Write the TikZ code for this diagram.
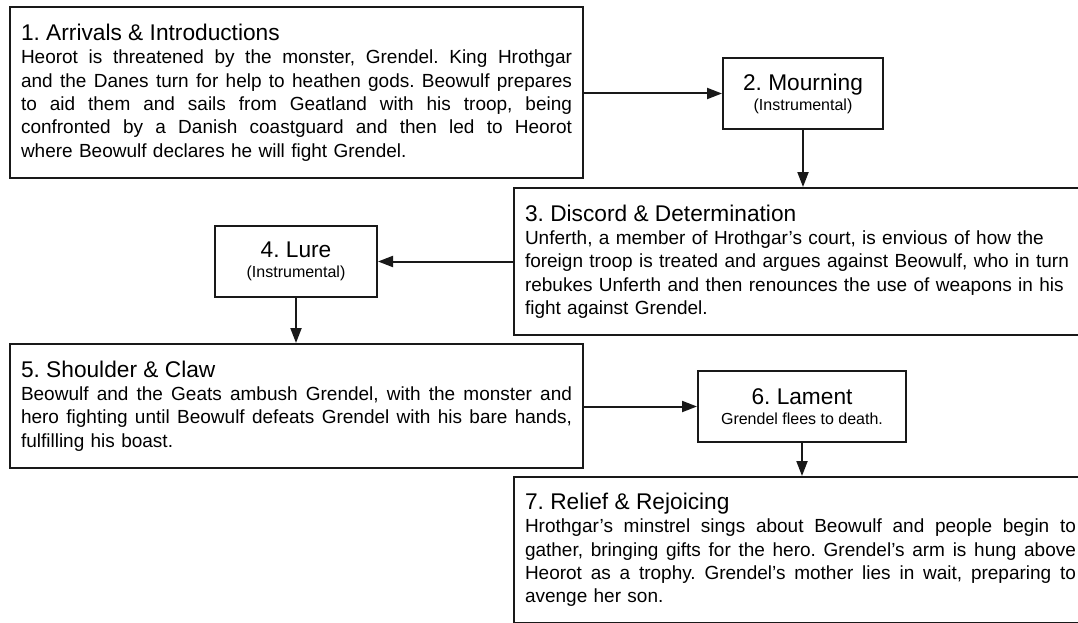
\documentclass[tikz,border=0pt]{standalone}
\usepackage{fontspec}
\setmainfont{Liberation Sans}
\usepackage{tikz}
\usetikzlibrary{arrows.meta,positioning,calc}
\newcommand{\bodysize}{\fontsize{19}{23.3}\selectfont}
\newcommand{\headsize}{\fontsize{22.7}{23.3}\selectfont}
\newcommand{\subsize}{\fontsize{16}{20}\selectfont}
\newlength{\boxtextwd}
\setlength{\boxtextwd}{551pt}
\newcommand{\fullline}[1]{\leavevmode\hbox to \boxtextwd{\spaceskip=0.278em plus 1fil\relax #1}}
\begin{document}
\frenchspacing
\begin{tikzpicture}[
    x=1pt, y=-1pt,
    bigbox/.style={rectangle, draw=black!90, line width=2pt, anchor=north west,
                   text width=\boxtextwd, inner xsep=11pt, inner ysep=0pt,
                   align=left, font=\bodysize},
    smallbox/.style={rectangle, draw=black!90, line width=2pt, anchor=north west,
                     minimum height=71pt, inner sep=0pt, align=center, font=\subsize},
    arr/.style={-{Triangle[length=15pt,width=11pt]}, line width=2pt, draw=black!90},
  ]
    \path[use as bounding box, fill=white] (0,0) rectangle (1078,623);

    % Row 1
    \node[bigbox, minimum height=171pt] (arrive) at (9,6) {{\headsize 1. Arrivals \& Introductions}\\
      \fullline{Heorot is threatened by the monster, Grendel. King Hrothgar}\\
      \fullline{and the Danes turn for help to heathen gods. Beowulf prepares}\\
      \fullline{to aid them and sails from Geatland with his troop, being}\\
      \fullline{confronted by a Danish coastguard and then led to Heorot}\\
      where Beowulf declares he will fight Grendel.};
    \node[smallbox, minimum width=160pt] (mourn) at (722,57) {{\headsize 2. Mourning}\\(Instrumental)};

    % Row 2 (runs off the right edge)
    \node[bigbox, text width=600pt, minimum height=147pt] (discord) at (513,187) {{\headsize 3. Discord \& Determination}\\
      Unferth, a member of Hrothgar’s court, is envious of how the\\
      foreign troop is treated and argues against Beowulf, who in turn\\
      rebukes Unferth and then renounces the use of weapons in his\\
      fight against Grendel.};
    \node[smallbox, minimum width=162pt] (lure) at (214,225) {{\headsize 4. Lure}\\(Instrumental)};

    % Row 3
    \node[bigbox, minimum height=124pt] (claw) at (9,343) {{\headsize 5. Shoulder \& Claw}\\
      \fullline{Beowulf and the Geats ambush Grendel, with the monster and}\\
      \fullline{hero fighting until Beowulf defeats Grendel with his bare hands,}\\
      fulfilling his boast.};
    \node[smallbox, minimum width=208pt] (lament) at (697,370) {{\headsize 6. Lament}\\Grendel flees to death.};

    % Row 4 (runs off the right and bottom edges)
    \node[bigbox, minimum height=146pt] (relief) at (513,476) {{\headsize 7. Relief \& Rejoicing}\\
      \fullline{Hrothgar’s minstrel sings about Beowulf and people begin to}\\
      \fullline{gather, bringing gifts for the hero. Grendel’s arm is hung above}\\
      \fullline{Heorot as a trophy. Grendel’s mother lies in wait, preparing to}\\
      avenge her son.};

    % Arrows
    \draw[arr] (arrive.east |- mourn.west) -- (mourn.west);
    \draw[arr] (mourn.south) -- (mourn.south |- discord.north);
    \draw[arr] (discord.west |- lure.east) -- (lure.east);
    \draw[arr] (lure.south) -- (lure.south |- claw.north);
    \draw[arr] (claw.east |- lament.west) -- (lament.west);
    \draw[arr] (lament.south) -- (lament.south |- relief.north);
  \end{tikzpicture}
\end{document}
